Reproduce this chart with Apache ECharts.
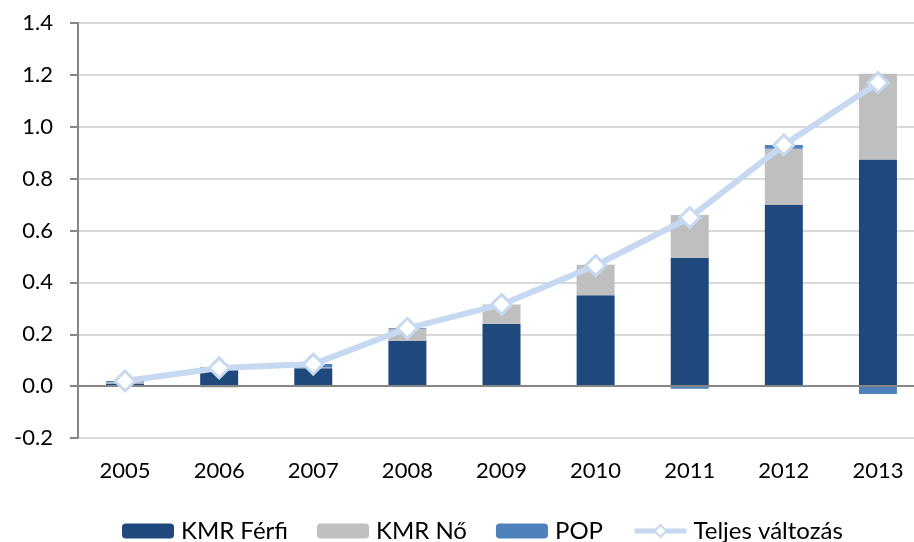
<!DOCTYPE html>
<html>
<head>
<meta charset="utf-8">
<script src="https://cdn.jsdelivr.net/npm/echarts@6/dist/echarts.min.js"></script>
<style>
  html, body { margin: 0; padding: 0; background: #fff; }
  #chart { width: 914px; height: 542px; }
</style>
</head>
<body>
<div id="chart"></div>
<script>
// évek
var years = ["2005", "2006", "2007", "2008", "2009", "2010", "2011", "2012", "2013"];
// oszlopok
var kmrFerfi = [0.01, 0.058, 0.069, 0.174, 0.24, 0.35, 0.495, 0.698, 0.874];
var kmrNo = [0.005, -0.005, 0.003, 0.046, 0.075, 0.118, 0.165, 0.217, 0.33];
var pop = [0.005, 0.015, 0.013, 0.003, 0.0, 0.0, -0.01, 0.015, -0.03];
// vonal
var teljes = [0.02, 0.07, 0.085, 0.223, 0.315, 0.465, 0.65, 0.93, 1.17];

var font = "Lato, 'Open Sans', sans-serif";

var chart = echarts.init(document.getElementById("chart"));
chart.setOption({
  animation: false,
  textStyle: { fontFamily: font },
  grid: { left: 78, top: 23, width: 847, bottom: 104, outerBoundsMode: "none" },
  legend: {
    left: 117,
    top: 514,
    itemWidth: 52,
    itemHeight: 15,
    itemGap: 29,
    textStyle: { fontSize: 24, color: "#000", fontFamily: font, padding: [0, 0, 0, 2] },
    data: [
      "KMR Férfi",
      "KMR Nő",
      "POP",
      { name: "Teljes változás", lineStyle: { width: 5 } }
    ]
  },
  xAxis: {
    type: "category",
    data: years,
    axisLine: { show: false, onZero: false },
    axisTick: { show: false },
    axisLabel: { fontSize: 22, color: "#000", margin: 22 }
  },
  yAxis: {
    type: "value",
    min: -0.2,
    max: 1.4,
    interval: 0.2,
    axisLine: { show: true, lineStyle: { color: "#868686", width: 2 } },
    axisTick: { show: true, length: 8, lineStyle: { color: "#868686", width: 2 } },
    axisLabel: {
      fontSize: 22,
      color: "#000",
      margin: 25,
      formatter: function (v) { return v.toFixed(1); }
    },
    splitLine: { lineStyle: { color: "#d9d9d9", width: 2 } }
  },
  series: [
    {
      name: "KMR Férfi",
      type: "bar",
      stack: "a",
      barWidth: 38,
      data: kmrFerfi,
      itemStyle: { color: "#1f497d" },
      markLine: {
        silent: true,
        symbol: "none",
        label: { show: false },
        lineStyle: { color: "#868686", width: 2, type: "solid" },
        data: [{ yAxis: 0 }]
      }
    },
    {
      name: "KMR Nő",
      type: "bar",
      stack: "a",
      data: kmrNo,
      itemStyle: { color: "#bfbfbf" }
    },
    {
      name: "POP",
      type: "bar",
      stack: "a",
      data: pop,
      itemStyle: { color: "#4f81bd" }
    },
    {
      name: "Teljes változás",
      type: "line",
      data: teljes,
      symbol: "diamond",
      symbolSize: 20,
      z: 5,
      lineStyle: { color: "#c6d9f1", width: 6 },
      itemStyle: { color: "#fff", borderColor: "#c6d9f1", borderWidth: 3 }
    }
  ]
});
</script>
</body>
</html>
